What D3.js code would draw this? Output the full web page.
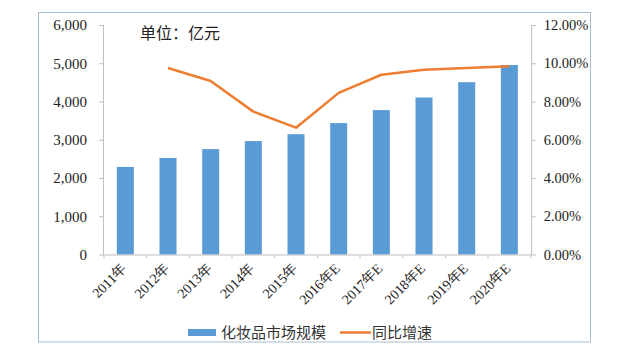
<!DOCTYPE html>
<html><head><meta charset="utf-8">
<script src="https://cdn.jsdelivr.net/npm/d3@7"></script>
<style>
html,body{margin:0;padding:0;background:#fff;}
svg{display:block;}
</style></head>
<body><svg id="c" width="640" height="356"></svg>
<script>
const categories = ["2011年","2012年","2013年","2014年","2015年","2016年E","2017年E","2018年E","2019年E","2020年E"];
const marketSize = [2290, 2525, 2755, 2965, 3145, 3435, 3775, 4105, 4505, 4955];
const growth = [null, 9.75, 9.07, 7.47, 6.63, 8.45, 9.40, 9.66, 9.75, 9.84];
const leftTicks = [0,1000,2000,3000,4000,5000,6000];
const rightTicks = [0,2,4,6,8,10,12];
const unitLabel = "单位：亿元";
const legendLabels = ["化妆品市场规模","同比增速"];

const SERIF = "Liberation Serif, Times New Roman, DejaVu Serif, serif";
const CJK = "Noto Sans CJK SC, Noto Sans, sans-serif";
const svg = d3.select("#c");
const L = 104, R = 530.7, T = 25, B = 254.5;

svg.append("rect").attr("x",38.5).attr("y",12.5).attr("width",552).attr("height",329.5)
  .attr("fill","#fff").attr("stroke","#a8bccf").attr("stroke-width",1);

const xt = d3.scaleBand().domain(categories).range([L,R]);
const yL = d3.scaleLinear().domain([0,6000]).range([B,T]);
const yR = d3.scaleLinear().domain([0,12]).range([B,T]);

svg.append("g").selectAll("rect").data(marketSize).join("rect")
  .attr("x",(d,i)=>xt(categories[i]) + xt.bandwidth()/2 - 8.5)
  .attr("width",17)
  .attr("y",d=>yL(d)).attr("height",d=>B-yL(d))
  .attr("fill","#5b9bd5");

const gl = svg.append("g").attr("transform",`translate(${L},0)`)
  .call(d3.axisLeft(yL).tickValues(leftTicks).tickFormat(d3.format(",")).tickSize(5).tickPadding(12));
gl.attr("font-family",null).style("font-family",SERIF);
gl.select(".domain").attr("stroke","#bfbfbf").attr("d",`M-0.5,${T}V${B}`);
gl.selectAll(".tick line").attr("stroke","#bfbfbf");
gl.selectAll("text").style("font-family",SERIF).attr("font-size",15).attr("fill","#222");

const gr = svg.append("g").attr("transform",`translate(${R+1},0)`)
  .call(d3.axisRight(yR).tickValues(rightTicks).tickFormat(d=>d.toFixed(2)+"%").tickSize(4).tickPadding(8));
gr.attr("font-family",null).style("font-family",SERIF);
gr.select(".domain").attr("stroke","#bfbfbf").attr("d",`M0,${T}V${B}`);
gr.selectAll(".tick line").attr("stroke","#bfbfbf");
gr.selectAll("text").style("font-family",SERIF).attr("font-size",14.5).attr("fill","#222");

const gb = svg.append("g").attr("transform",`translate(0,${B})`)
  .call(d3.axisBottom(xt).tickSize(0).tickPadding(0));
gb.select(".domain").attr("stroke","#bfbfbf").attr("d",`M${L},0.5H${R+1}`);
gb.selectAll(".tick text").remove();
svg.append("g").selectAll("line").data(d3.range(categories.length+1)).join("line")
  .attr("x1",i=>L + i*xt.step()).attr("x2",i=>L + i*xt.step())
  .attr("y1",B).attr("y2",B+4).attr("stroke","#bfbfbf");
svg.append("g").selectAll("text").data(categories).join("text")
  .style("font-family",SERIF)
  .attr("transform",d=>`translate(${xt(d)+xt.bandwidth()/2+2},${B+15}) rotate(-45)`)
  .attr("text-anchor","end").attr("font-size",14).attr("fill","#222")
  .text(d=>d);

const pts = growth.map((g,i)=>({g,c:categories[i]})).filter(d=>d.g!=null);
svg.append("path").datum(pts)
  .attr("d",d3.line().x(d=>xt(d.c)+xt.bandwidth()/2).y(d=>yR(d.g)))
  .attr("fill","none").attr("stroke","#ed7d31").attr("stroke-width",2.5).attr("stroke-linejoin","round");

svg.append("text").style("font-family",CJK).attr("x",140).attr("y",39).attr("font-size",16).attr("fill","#222").text(unitLabel);

svg.append("rect").attr("x",188).attr("y",329).attr("width",28).attr("height",7).attr("fill","#5b9bd5");
svg.append("text").style("font-family",CJK).attr("x",221).attr("y",338).attr("font-size",15).attr("fill","#333").text(legendLabels[0]);
svg.append("line").attr("x1",340).attr("x2",371).attr("y1",332.5).attr("y2",332.5).attr("stroke","#ed7d31").attr("stroke-width",2.5);
svg.append("text").style("font-family",CJK).attr("x",372).attr("y",338).attr("font-size",15).attr("fill","#333").text(legendLabels[1]);
</script></body></html>
